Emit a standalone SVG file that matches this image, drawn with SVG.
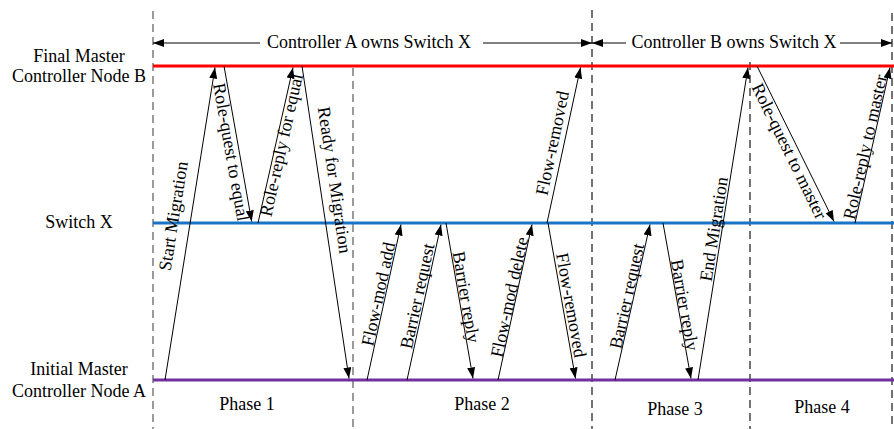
<svg xmlns="http://www.w3.org/2000/svg" width="894" height="429" viewBox="0 0 894 429">
<style>
text{font-family:"Liberation Serif","Times New Roman",serif;font-size:18px;fill:#000}
.c{text-anchor:middle}
.m{text-anchor:middle}
.msg{stroke:#000;stroke-width:1;fill:none;marker-end:url(#ah)}
.dg{stroke:#666;stroke-width:1.3;stroke-dasharray:8,5}
.dk{stroke:#000;stroke-width:1.1;stroke-dasharray:8,5}
</style>
<defs>
<marker id="ah" markerUnits="userSpaceOnUse" markerWidth="11" markerHeight="8" refX="11" refY="4" orient="auto">
<path d="M0,0 L11,4 L0,8 z" fill="#000"/>
</marker>
</defs>
<rect width="894" height="429" fill="#fff"/>
<g id="phase-dividers">
<line class="dg" x1="153" y1="11" x2="153" y2="429"/>
<line class="dg" x1="353" y1="68" x2="353" y2="429"/>
<line class="dk" x1="592" y1="10" x2="592" y2="429"/>
<line class="dk" x1="750" y1="62" x2="750" y2="429"/>
<line class="dk" x1="892" y1="13" x2="892" y2="429"/>
</g>
<g id="node-b">
<line x1="153" y1="66" x2="894" y2="66" stroke="#ff0000" stroke-width="3"/>
<text class="c" x="79" y="62">Final Master</text>
<text class="c" x="79" y="82">Controller Node B</text>
</g>
<g id="switch-x">
<line x1="153" y1="223" x2="894" y2="223" stroke="#1874c4" stroke-width="3"/>
<text class="c" x="79" y="228">Switch X</text>
</g>
<g id="node-a">
<line x1="153" y1="380" x2="894" y2="380" stroke="#7030a0" stroke-width="3"/>
<text class="c" x="79" y="375">Initial Master</text>
<text class="c" x="79" y="397">Controller Node A</text>
</g>
<g id="ownership">
<line class="msg" x1="260" y1="43" x2="153" y2="43"/>
<text class="c" x="369" y="48">Controller A owns Switch X</text>
<line class="msg" x1="483" y1="43" x2="592" y2="43"/>
<line class="msg" x1="626" y1="43" x2="592" y2="43"/>
<text class="c" x="734" y="48">Controller B owns Switch X</text>
<line class="msg" x1="840" y1="43" x2="892" y2="43"/>
</g>
<g id="phases">
<text class="c" x="247" y="410">Phase 1</text>
<text class="c" x="482" y="410">Phase 2</text>
<text class="c" x="675" y="415">Phase 3</text>
<text class="c" x="822" y="413">Phase 4</text>
</g>
<g id="connectors">
<line class="msg" x1="165" y1="380" x2="215" y2="67.5"/>
<line class="msg" x1="224" y1="66" x2="251.7" y2="221.5"/>
<line class="msg" x1="258" y1="223" x2="293" y2="67.5"/>
<line class="msg" x1="302" y1="66" x2="349" y2="378.5"/>
<line class="msg" x1="367" y1="380" x2="401" y2="224.5"/>
<line class="msg" x1="407" y1="380" x2="441" y2="224.5"/>
<line class="msg" x1="446" y1="223" x2="473" y2="378.5"/>
<line class="msg" x1="498" y1="380" x2="532" y2="224.5"/>
<line class="msg" x1="547" y1="223" x2="580.5" y2="67.5"/>
<line class="msg" x1="548" y1="223" x2="575.5" y2="378.5"/>
<line class="msg" x1="615" y1="380" x2="650" y2="224.5"/>
<line class="msg" x1="663" y1="223" x2="691" y2="378.5"/>
<line class="msg" x1="698" y1="380" x2="748" y2="67.5"/>
<line class="msg" x1="757" y1="66" x2="834" y2="221.5"/>
<line class="msg" x1="855" y1="223" x2="890" y2="67.5"/>
</g>
<g id="labels">
<text class="m" dy="0.35em" transform="translate(173,216) rotate(-80.95)">Start Migration</text>
<text class="m" dy="0.35em" transform="translate(231.5,152) rotate(79.9)">Role-quest to equal</text>
<text class="m" dy="0.35em" transform="translate(281,145) rotate(-77.4)">Role-reply for equal</text>
<text class="m" dy="0.35em" transform="translate(335,180) rotate(81.5)">Ready for Migration</text>
<text class="m" dy="0.35em" transform="translate(378,294) rotate(-77.8)">Flow-mod add</text>
<text class="m" dy="0.35em" transform="translate(417,296) rotate(-77.8)">Barrier request</text>
<text class="m" dy="0.35em" transform="translate(466.5,297) rotate(80.2)">Barrier reply</text>
<text class="m" dy="0.35em" transform="translate(509,297) rotate(-77.8)">Flow-mod delete</text>
<text class="m" dy="0.35em" transform="translate(552,143) rotate(-78.1)">Flow-removed</text>
<text class="m" dy="0.35em" transform="translate(571.5,305) rotate(79.9)">Flow-removed</text>
<text class="m" dy="0.35em" transform="translate(626.5,296) rotate(-77.4)">Barrier request</text>
<text class="m" dy="0.35em" transform="translate(685,305) rotate(79.9)">Barrier reply</text>
<text class="m" dy="0.35em" transform="translate(713.5,229) rotate(-81)">End Migration</text>
<text class="m" dy="0.35em" transform="translate(789.6,151) rotate(63.9)">Role-quest to master</text>
<text class="m" dy="0.35em" transform="translate(864.7,147) rotate(-77.4)">Role-reply to master</text>
</g>
</svg>
